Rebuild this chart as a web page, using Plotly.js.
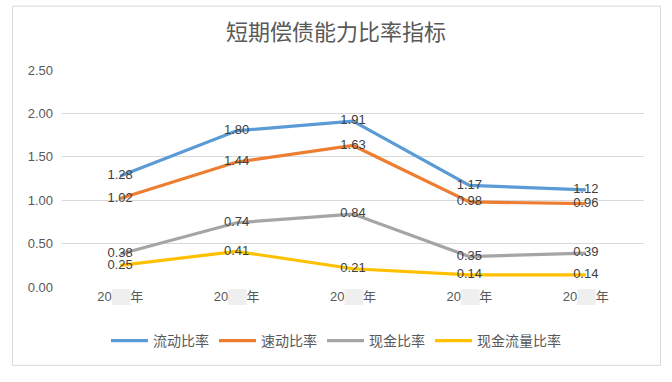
<!DOCTYPE html>
<html>
<head>
<meta charset="utf-8">
<script src="https://cdn.plot.ly/plotly-3.0.1.min.js"></script>
<style>
  html, body { margin: 0; padding: 0; background: #fff; }
  #chart { width: 672px; height: 382px; }
</style>
</head>
<body>
<div id="chart"></div>
<script>
const categories = ['20\u2588\u2588年', '20\u2588\u2588年', '20\u2588\u2588年', '20\u2588\u2588年', '20\u2588\u2588年'];
const seriesNames = ['流动比率', '速动比率', '现金比率', '现金流量比率'];
const currentRatio = [1.28, 1.80, 1.91, 1.17, 1.12];
const quickRatio = [1.02, 1.44, 1.63, 0.98, 0.96];
const cashRatio = [0.38, 0.74, 0.84, 0.35, 0.39];
const cashFlowRatio = [0.25, 0.41, 0.21, 0.14, 0.14];
const yTickVals = [0, 0.5, 1.0, 1.5, 2.0, 2.5];

const colors = ['#5B9BD5', '#ED7D31', '#A5A5A5', '#FFC000'];
const allSeries = [currentRatio, quickRatio, cashRatio, cashFlowRatio];
const xIdx = categories.map((_, i) => i);
const tickText = categories.map(c => c.replace(/\u2588+/, m => "<span style='color:#efefef'>" + m + "</span>"));

const fontFam = 'Liberation Sans, Noto Sans CJK SC, sans-serif';

const traces = allSeries.map((vals, k) => ({
  type: 'scatter',
  mode: 'lines+text',
  name: seriesNames[k],
  x: xIdx,
  y: vals,
  text: vals.map(v => v.toFixed(2)),
  textposition: 'middle center',
  textfont: { family: fontFam, size: 13, color: '#404040' },
  line: { color: colors[k], width: 3.2 },
  cliponaxis: false,
  hoverinfo: 'skip'
}));

const L = 62, R = 28, T = 69.5, B = 95, W = 672, H = 382;
const pw = W - L - R, ph = H - T - B;
const px = x => (x - L) / pw;
const py = y => (H - B - y) / ph;

const layout = {
  width: W, height: H,
  margin: { l: L, r: R, t: T, b: B, pad: 0 },
  paper_bgcolor: '#ffffff',
  plot_bgcolor: '#ffffff',
  font: { family: fontFam, color: '#595959' },
  title: {
    text: '短期偿债能力比率指标',
    font: { family: 'Noto Sans CJK SC, sans-serif', size: 22, color: '#595959' },
    x: 0.5, xanchor: 'center', xref: 'container',
    y: 1 - 32 / H, yanchor: 'middle', yref: 'container'
  },
  xaxis: {
    range: [-0.5, 4.5],
    tickmode: 'array', tickvals: xIdx, ticktext: tickText,
    showgrid: false, zeroline: false, showline: false,
    ticks: '', ticklen: 0,
    tickfont: { family: fontFam, size: 13, color: '#595959' },
    fixedrange: true
  },
  yaxis: {
    range: [0, 2.5],
    tickmode: 'array', tickvals: yTickVals,
    ticktext: yTickVals.map(v => v.toFixed(2)),
    showgrid: true, gridcolor: '#D9D9D9', gridwidth: 1,
    zeroline: false, showline: false,
    ticks: '', ticklabelstandoff: 8,
    tickfont: { family: fontFam, size: 13, color: '#595959' },
    fixedrange: true
  },
  showlegend: true,
  legend: {
    orientation: 'h',
    x: 0.5, xanchor: 'center', xref: 'container',
    y: 1 - 341 / H, yanchor: 'middle', yref: 'container',
    font: { family: 'Noto Sans CJK SC, sans-serif', size: 14, color: '#595959' },
    itemwidth: 37,
    bgcolor: 'rgba(0,0,0,0)',
    itemclick: false, itemdoubleclick: false
  },
  shapes: [{
    type: 'rect', xref: 'paper', yref: 'paper',
    x0: px(12.5), x1: px(660.5), y0: py(365.5), y1: py(5.5),
    line: { color: '#D9D9D9', width: 1 },
    fillcolor: 'rgba(0,0,0,0)', layer: 'below'
  }]
};

Plotly.newPlot('chart', traces, layout, { staticPlot: true, displayModeBar: false });
</script>
</body>
</html>
